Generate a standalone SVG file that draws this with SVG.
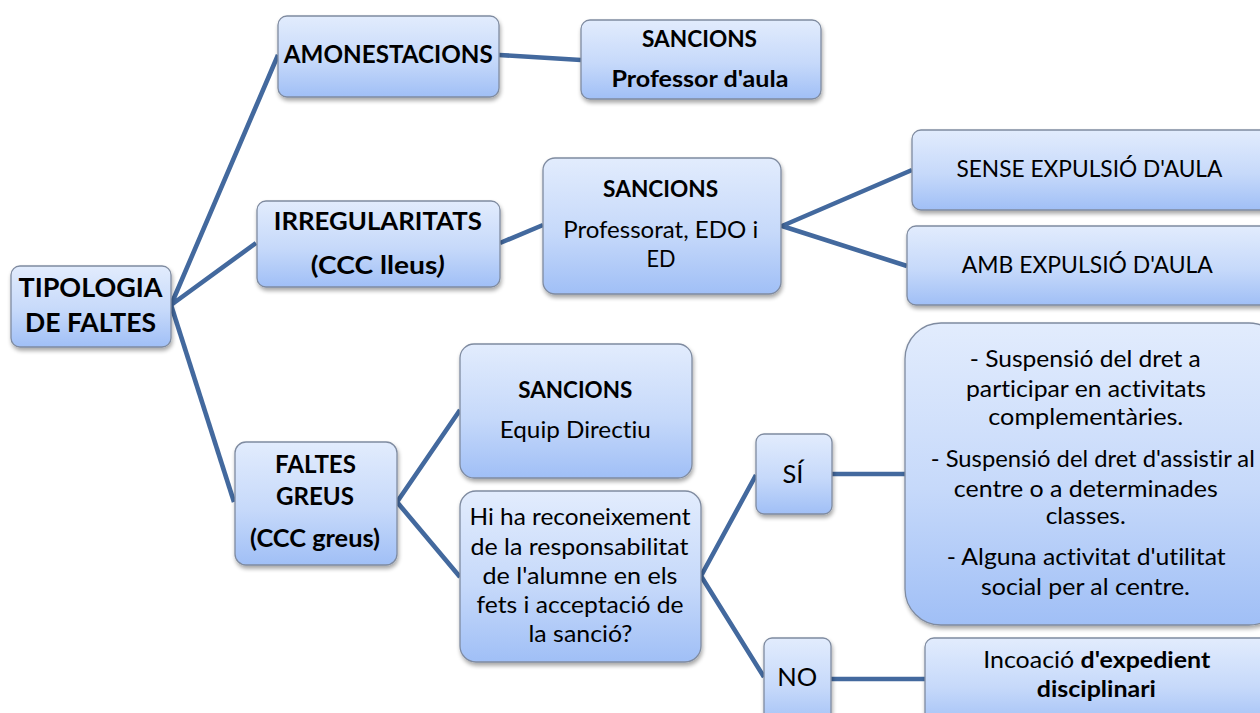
<svg xmlns="http://www.w3.org/2000/svg" width="1260" height="713" viewBox="0 0 1260 713">
<defs>
<linearGradient id="g" x1="0" y1="0" x2="0" y2="1">
<stop offset="0" stop-color="#e2ecfd"/>
<stop offset="0.55" stop-color="#c6d9fa"/>
<stop offset="1" stop-color="#a0bff6"/>
</linearGradient>
<filter id="sh" x="-10%" y="-10%" width="125%" height="130%">
<feGaussianBlur in="SourceAlpha" stdDeviation="2"/>
<feOffset dx="1" dy="3" result="b"/>
<feComponentTransfer><feFuncA type="linear" slope="0.35"/></feComponentTransfer>
<feMerge><feMergeNode/><feMergeNode in="SourceGraphic"/></feMerge>
</filter>
</defs>
<style>
.n{fill:url(#g);stroke:#7f8ba0;stroke-width:1.3;filter:url(#sh)}
.c{stroke:#43699e;stroke-width:4.6;fill:none;stroke-linejoin:round}
text{font-family:Lato,"Open Sans","Liberation Sans",sans-serif;fill:#000;text-anchor:middle;font-variant-ligatures:none}
.b{font-weight:bold}
.t{font-size:23px}
.h{font-size:24px;font-weight:bold}
</style>
<rect width="1260" height="713" fill="#fff"/>
<g id="connectors">
<polyline class="c" points="278,55 171,305 256,243"/>
<line class="c" x1="171" y1="305" x2="234" y2="502"/>
<line class="c" x1="499" y1="55" x2="581" y2="60"/>
<line class="c" x1="500" y1="243" x2="543" y2="225"/>
<polyline class="c" points="912,170 782,226 907,266"/>
<polyline class="c" points="460,410 397,502 460,577"/>
<polyline class="c" points="756,475 701,576 764,677"/>
<line class="c" x1="832" y1="474" x2="906" y2="474"/>
<line class="c" x1="831" y1="679" x2="926" y2="679"/>
</g>
<g id="n-tipologia">
<rect class="n" x="11" y="266" width="160" height="81" rx="9"/>
<text class="h" x="90.5" y="297" style="font-size:26px" textLength="144" lengthAdjust="spacingAndGlyphs">TIPOLOGIA</text>
<text class="h" x="90.5" y="332" style="font-size:26px" textLength="131" lengthAdjust="spacingAndGlyphs">DE FALTES</text>
</g>
<g id="n-amonestacions">
<rect class="n" x="278" y="16" width="221" height="81" rx="9"/>
<text class="h" x="388.3" y="63" textLength="209" lengthAdjust="spacingAndGlyphs">AMONESTACIONS</text>
</g>
<g id="n-sancions1">
<rect class="n" x="581" y="20" width="240" height="79" rx="9"/>
<text class="h" x="699.5" y="47" style="font-size:23px" textLength="115" lengthAdjust="spacingAndGlyphs">SANCIONS</text>
<text class="h" x="700" y="87" style="font-size:23px" textLength="177" lengthAdjust="spacingAndGlyphs">Professor d'aula</text>
</g>
<g id="n-irregularitats">
<rect class="n" x="257" y="201" width="243" height="86" rx="9"/>
<text class="h" x="377.8" y="230" textLength="208" lengthAdjust="spacingAndGlyphs">IRREGULARITATS</text>
<text class="h" x="377.8" y="274" textLength="134" lengthAdjust="spacingAndGlyphs">(CCC  lleus<tspan font-style="italic">)</tspan></text>
</g>
<g id="n-sancions2">
<rect class="n" x="543" y="158" width="238" height="136" rx="12"/>
<text class="h" x="660.6" y="197" style="font-size:23px" textLength="115" lengthAdjust="spacingAndGlyphs">SANCIONS</text>
<text class="t" x="660.7" y="238" textLength="195" lengthAdjust="spacingAndGlyphs">Professorat, EDO i</text>
<text class="t" x="661" y="267" textLength="29" lengthAdjust="spacingAndGlyphs">ED</text>
</g>
<g id="n-sense">
<rect class="n" x="912" y="130" width="360" height="80" rx="9"/>
<text class="t" x="1089.4" y="177" textLength="266" lengthAdjust="spacingAndGlyphs">SENSE EXPULSIÓ D'AULA</text>
</g>
<g id="n-amb">
<rect class="n" x="907" y="226" width="365" height="79" rx="9"/>
<text class="t" x="1087.3" y="273" textLength="251" lengthAdjust="spacingAndGlyphs">AMB EXPULSIÓ D'AULA</text>
</g>
<g id="n-faltes-greus">
<rect class="n" x="235" y="442" width="162" height="123" rx="11"/>
<text class="h" x="315.5" y="473" textLength="81" lengthAdjust="spacingAndGlyphs">FALTES</text>
<text class="h" x="315" y="505" textLength="78" lengthAdjust="spacingAndGlyphs">GREUS</text>
<text class="h" x="315" y="547" textLength="130" lengthAdjust="spacingAndGlyphs">(CCC greus)</text>
</g>
<g id="n-sancions3">
<rect class="n" x="460" y="344" width="232" height="134" rx="14"/>
<text class="h" x="575.3" y="398" style="font-size:23px" textLength="114" lengthAdjust="spacingAndGlyphs">SANCIONS</text>
<text class="t" x="575.3" y="438" textLength="151" lengthAdjust="spacingAndGlyphs">Equip Directiu</text>
</g>
<g id="n-pregunta">
<rect class="n" x="460" y="491" width="241" height="171" rx="16"/>
<text class="t" x="580" y="525" textLength="221" lengthAdjust="spacingAndGlyphs">Hi ha reconeixement</text>
<text class="t" x="579.5" y="555" textLength="218" lengthAdjust="spacingAndGlyphs">de la responsabilitat</text>
<text class="t" x="580" y="584" textLength="195" lengthAdjust="spacingAndGlyphs">de l'alumne en els</text>
<text class="t" x="580" y="613" textLength="207" lengthAdjust="spacingAndGlyphs">fets i acceptació de</text>
<text class="t" x="580.5" y="642" textLength="104" lengthAdjust="spacingAndGlyphs">la sanció?</text>
</g>
<g id="n-si">
<rect class="n" x="756" y="434" width="76" height="80" rx="8"/>
<text x="793" y="483" style="font-size:25px" textLength="21" lengthAdjust="spacingAndGlyphs">SÍ</text>
</g>
<g id="n-no">
<rect class="n" x="764" y="638" width="67" height="90" rx="8"/>
<text x="797.3" y="686" style="font-size:25px" textLength="40" lengthAdjust="spacingAndGlyphs">NO</text>
</g>
<g id="n-sancions-greus">
<rect class="n" x="905" y="323" width="380" height="302" rx="36"/>
<text class="t" x="1085.3" y="367" textLength="231" lengthAdjust="spacingAndGlyphs">- Suspensió del dret a</text>
<text class="t" x="1086" y="397" textLength="240" lengthAdjust="spacingAndGlyphs">participar en activitats</text>
<text class="t" x="1085.8" y="425" textLength="195" lengthAdjust="spacingAndGlyphs">complementàries.</text>
<text class="t" x="1092.8" y="467" textLength="324" lengthAdjust="spacingAndGlyphs">- Suspensió del dret d'assistir al</text>
<text class="t" x="1085.8" y="497" textLength="264" lengthAdjust="spacingAndGlyphs">centre o a determinades</text>
<text class="t" x="1085.7" y="524" textLength="80" lengthAdjust="spacingAndGlyphs">classes.</text>
<text class="t" x="1086.2" y="565" textLength="279" lengthAdjust="spacingAndGlyphs">- Alguna activitat d'utilitat</text>
<text class="t" x="1085.5" y="595" textLength="209" lengthAdjust="spacingAndGlyphs">social per al centre.</text>
</g>
<g id="n-incoacio">
<rect class="n" x="925" y="638" width="360" height="90" rx="9"/>
<text class="t" x="1096.7" y="668" textLength="227" lengthAdjust="spacingAndGlyphs">Incoació <tspan class="b">d'expedient</tspan></text>
<text class="t b" x="1096.3" y="697" textLength="119" lengthAdjust="spacingAndGlyphs">disciplinari</text>
</g>
</svg>
